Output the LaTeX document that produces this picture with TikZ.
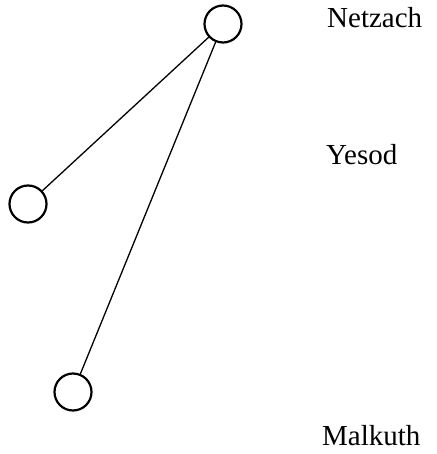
\documentclass[tikz,border=0pt]{standalone}
\usepackage{fontspec}
\setmainfont{Liberation Serif}
\begin{document}
\begin{tikzpicture}[x=1pt,y=-1pt,
  sef/.style={circle,draw=black,line width=2.2pt,minimum size=37pt,inner sep=0pt},
  lbl/.style={anchor=base west,inner sep=0pt,font=\fontsize{29}{31}\selectfont},
  path/.style={draw=black,line width=1.3pt}]
\useasboundingbox (0,0) rectangle (436,454);
\node[sef] (n) at (223,24) {};
\node[sef] (l) at (28,204) {};
\node[sef] (b) at (73,392) {};
\draw[path] (n) -- (l);
\draw[path] (n) -- (b);
\node[lbl] (t1) at (327,28) {Netzach};
\node[lbl] (t2) at (326,165) {Yesod};
\node[lbl] (t3) at (322,445) {Malkuth};
\end{tikzpicture}
\end{document}
